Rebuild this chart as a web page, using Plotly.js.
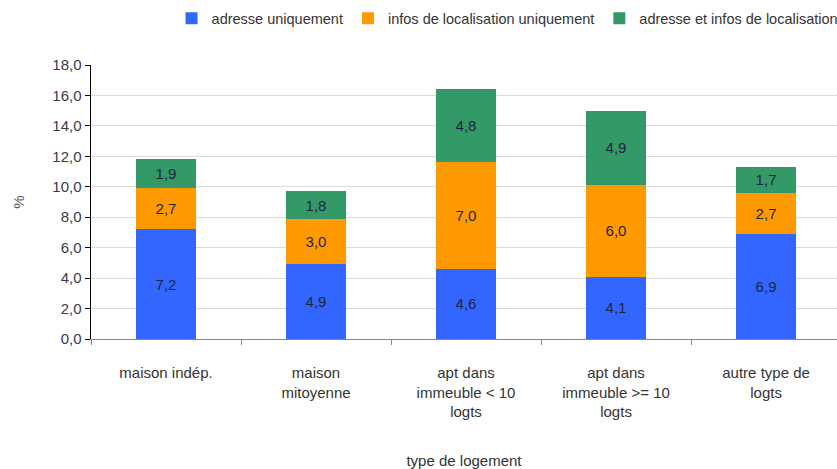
<!DOCTYPE html>
<html>
<head>
<meta charset="utf-8">
<script src="https://cdn.plot.ly/plotly-3.0.1.min.js"></script>
<style>html,body{margin:0;padding:0;background:#fff;}#chart{width:837px;height:469px;}</style>
</head>
<body>
<div id="chart"></div>
<script>
const categories = ["maison indép.", "maison<br>mitoyenne", "apt dans<br>immeuble < 10<br>logts", "apt dans<br>immeuble >= 10<br>logts", "autre type de<br>logts"];
const adresseUniquement = [7.2, 4.9, 4.6, 4.1, 6.9];
const infosLocalisation = [2.7, 3.0, 7.0, 6.0, 2.7];
const adresseEtInfos = [1.9, 1.8, 4.8, 4.9, 1.7];
const seriesNames = ["adresse uniquement", "infos de localisation uniquement", "adresse et infos de localisation"];
const seriesColors = ["#3366FF", "#FF9900", "#339966"];
const yTicks = [0, 2, 4, 6, 8, 10, 12, 14, 16, 18];

const FONT = "Liberation Sans, Arial, sans-serif";
const allSeries = [adresseUniquement, infosLocalisation, adresseEtInfos];
const traces = allSeries.map((vals, i) => ({
  type: "bar",
  name: seriesNames[i],
  x: categories,
  y: vals,
  marker: {color: seriesColors[i], line: {width: 0}},
  width: 0.405,
  texttemplate: "%{y:.1f}",
  textposition: "inside",
  insidetextanchor: "middle",
  textangle: 0,
  constraintext: "none",
  textfont: {family: FONT, size: 15, color: "#1f2540"},
  hoverinfo: "skip"
}));

const layout = {
  width: 837, height: 469,
  margin: {l: 91, r: 0, t: 65, b: 130, pad: 0, autoexpand: false},
  barmode: "stack",
  separators: ", ",
  paper_bgcolor: "#fff", plot_bgcolor: "#fff",
  font: {family: FONT, size: 15, color: "#333"},
  showlegend: true,
  legend: {
    orientation: "h", x: 0.108, xanchor: "left", y: 1.17, yanchor: "middle",
    font: {family: FONT, size: 14.5, color: "#333"},
    itemwidth: 30, traceorder: "normal", bgcolor: "rgba(0,0,0,0)"
  },
  xaxis: {
    type: "category",
    range: [-0.5, 4.473],
    tickson: "boundaries",
    ticks: "outside", ticklen: 5, tickcolor: "#888",
    showline: true, linecolor: "#888", linewidth: 1,
    showgrid: false, zeroline: false,
    tickfont: {family: FONT, size: 15, color: "#333"},
    ticklabelstandoff: 20,
    title: {text: "type de logement", font: {family: FONT, size: 15, color: "#333"}, standoff: 42},
    automargin: false, fixedrange: true
  },
  yaxis: {
    range: [0, 18],
    tickvals: yTicks,
    tickformat: ".1f",
    ticks: "outside", ticklen: 5, tickcolor: "#000",
    showline: true, linecolor: "#000", linewidth: 1.5,
    showgrid: true, gridcolor: "#d9d9d9", gridwidth: 1,
    zeroline: false,
    tickfont: {family: FONT, size: 15, color: "#3a3a4a"},
    title: {text: "%", font: {family: FONT, size: 15, color: "#555"}, standoff: 24},
    automargin: false, fixedrange: true
  }
};

Plotly.newPlot("chart", traces, layout, {displayModeBar: false, staticPlot: true});
</script>
</body>
</html>
